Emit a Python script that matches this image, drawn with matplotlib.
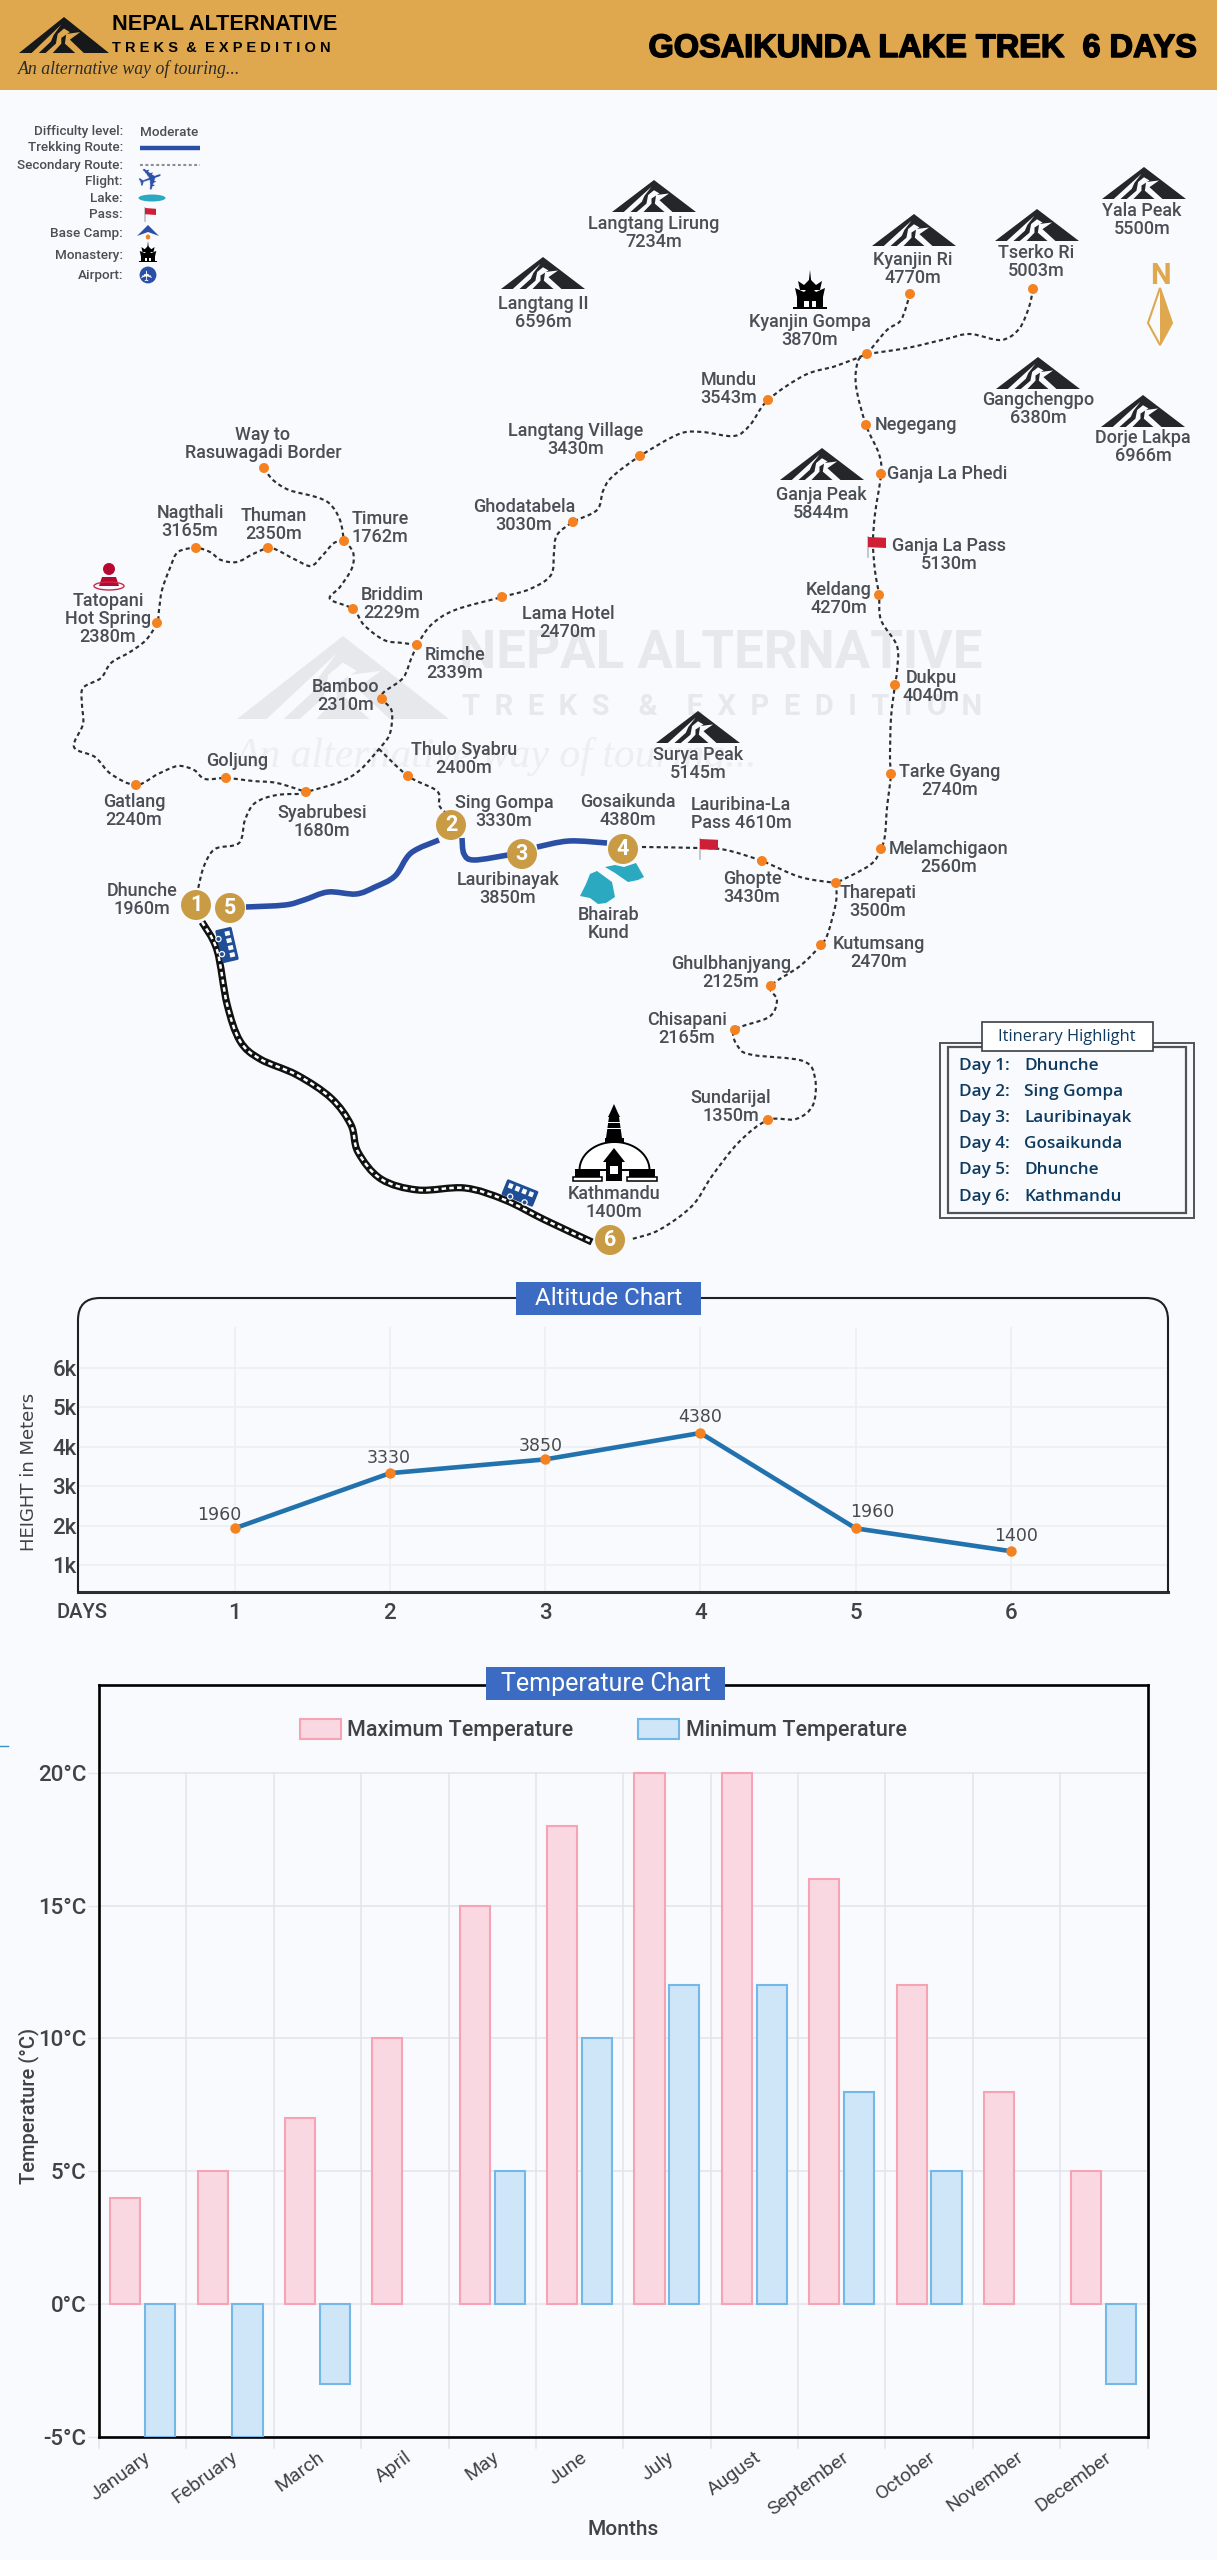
"""Gosaikunda Lake Trek infographic: header, route map, altitude and temperature charts.
The map is drawn on a full-figure canvas in image pixels (y down)."""
import numpy as np
import matplotlib
matplotlib.use("Agg")
import matplotlib.pyplot as plt
import matplotlib.patheffects as pe
from matplotlib.path import Path
from matplotlib.patches import PathPatch, Circle, Ellipse, Polygon, Rectangle
from matplotlib.transforms import ScaledTranslation

W, H = 1217, 2560
BG = "#F8FAFD"
GOLD = "#DFA84E"
BADGE = "#C99B45"
ORANGE = "#F58220"
BLUE = "#2A4FA5"
TITLE_BLUE = "#3B6BC2"
INK = "#4A4E55"
DARK = "#24262A"

plt.rcParams["font.family"] = ["Roboto", "DejaVu Sans"]

# altitude chart
days = [1, 2, 3, 4, 5, 6]
altitude_plotted = [1930, 3330, 3680, 4350, 1930, 1350]
altitude_labels = ["1960", "3330", "3850", "4380", "1960", "1400"]
altitude_ticks = [1000, 2000, 3000, 4000, 5000, 6000]
altitude_ticklabels = ["1k", "2k", "3k", "4k", "5k", "6k"]

# temperature chart (April and November have no minimum bar)
months = ["January", "February", "March", "April", "May", "June", "July", "August",
          "September", "October", "November", "December"]
temp_max = [4, 5, 7, 10, 15, 18, 20, 20, 16, 12, 8, 5]
temp_min = [-5, -5, -3, np.nan, 5, 10, 12, 12, 8, 5, np.nan, -3]
temp_ticks = [-5, 0, 5, 10, 15, 20]

itinerary_days = ["Day 1:", "Day 2:", "Day 3:", "Day 4:", "Day 5:", "Day 6:"]
itinerary_stops = ["Dhunche", "Sing Gompa", "Lauribinayak", "Gosaikunda", "Dhunche", "Kathmandu"]

legend_names = ["Difficulty level:", "Trekking Route:", "Secondary Route:", "Flight:", "Lake:",
                "Pass:", "Base Camp:", "Monastery:", "Airport:"]
legend_rows = [132, 148, 165, 182, 198, 215, 233, 255, 276]

# map labels: text, centre x, centre y (image pixels)
place_labels = [
    ("Langtang Lirung\n7234m", 654, 233), ("Yala Peak\n5500m", 1142, 220),
    ("Kyanjin Ri\n4770m", 913, 269), ("Tserko Ri\n5003m", 1036, 262),
    ("Langtang II\n6596m", 543, 313), ("Kyanjin Gompa\n3870m", 810, 331),
    ("Mundu\n3543m", 729, 389), ("Negegang", 916, 425), ("Ganja La Phedi", 947, 474),
    ("Ganja La Pass\n5130m", 949, 555), ("Ganja Peak\n5844m", 821, 504),
    ("Gangchengpo\n6380m", 1038, 409), ("Dorje Lakpa\n6966m", 1143, 447),
    ("Keldang\n4270m", 839, 599), ("Dukpu\n4040m", 931, 687), ("Surya Peak\n5145m", 698, 764),
    ("Tarke Gyang\n2740m", 950, 781), ("Melamchigaon\n2560m", 949, 858),
    ("Tharepati\n3500m", 878, 902), ("Kutumsang\n2470m", 879, 953),
    ("Ghulbhanjyang\n2125m", 731, 973), ("Chisapani\n2165m", 687, 1029),
    ("Sundarijal\n1350m", 731, 1107), ("Kathmandu\n1400m", 614, 1203),
    ("Ghopte\n3430m", 752, 888), ("Lauribina-La\nPass 4610m", 741, 814),
    ("Gosaikunda\n4380m", 628, 811), ("Sing Gompa\n3330m", 504, 812),
    ("Lauribinayak\n3850m", 508, 889), ("Bhairab\nKund", 609, 924),
    ("Thulo Syabru\n2400m", 464, 759), ("Syabrubesi\n1680m", 322, 822),
    ("Goljung", 237, 761), ("Gatlang\n2240m", 134, 811), ("Dhunche\n1960m", 142, 900),
    ("Tatopani\nHot Spring\n2380m", 108, 619), ("Way to\nRasuwagadi Border", 263, 444),
    ("Nagthali\n3165m", 190, 522), ("Thuman\n2350m", 274, 525), ("Timure\n1762m", 380, 528),
    ("Briddim\n2229m", 392, 604), ("Rimche\n2339m", 455, 664), ("Bamboo\n2310m", 346, 696),
    ("Lama Hotel\n2470m", 568, 623), ("Ghodatabela\n3030m", 524, 516),
    ("Langtang Village\n3430m", 576, 440),
]

stops = [(264, 468), (344, 541), (196, 548), (268, 548), (157, 623), (353, 609), (417, 645),
         (502, 597), (573, 522), (382, 699), (226, 778), (136, 785), (306, 792), (408, 776),
         (640, 456), (768, 400), (867, 354), (910, 294), (1033, 289), (866, 425), (881, 474),
         (879, 595), (895, 685), (891, 774), (881, 849), (836, 883), (762, 861), (821, 945),
         (771, 986), (735, 1030), (768, 1120)]

badges = [(1, 196, 905), (5, 230, 908), (2, 451, 825), (3, 522, 854), (4, 623, 849), (6, 610, 1240)]

peaks = [(654, 180), (543, 257), (914, 214), (1037, 209), (1144, 167), (1038, 357),
         (1143, 395), (822, 448), (698, 711)]

trails = [
    [(264, 468), (273, 480), (289, 490), (316, 497), (330, 504), (340, 520), (344, 541)],
    [(344, 541), (353, 552), (352, 568), (340, 587), (330, 599), (353, 609), (364, 625),
     (384, 640), (403, 643), (417, 645)],
    [(344, 541), (334, 543), (322, 556), (311, 566), (296, 560), (277, 550), (268, 548),
     (253, 554), (237, 562), (221, 560), (210, 552), (196, 548), (178, 552), (170, 568),
     (162, 590), (159, 610), (157, 623), (146, 640), (130, 652), (111, 663), (101, 678),
     (83, 688), (82, 705), (83, 724), (74, 747), (95, 757), (111, 774), (136, 785),
     (158, 774), (178, 766), (194, 770), (205, 779), (226, 778), (253, 781), (277, 783),
     (306, 792)],
    [(417, 645), (411, 659), (403, 678), (384, 692), (382, 699), (391, 709), (392, 721),
     (389, 736), (379, 749), (360, 770), (340, 782), (306, 792)],
    [(379, 749), (408, 776), (437, 791), (439, 805), (445, 812)],
    [(306, 794), (277, 795), (255, 803), (245, 820), (239, 843), (215, 849), (204, 866), (198, 889)],
    [(417, 645), (431, 625), (455, 610), (502, 597), (530, 589), (551, 575), (554, 552),
     (557, 535), (573, 522), (597, 510), (603, 491), (612, 477), (640, 456), (679, 434),
     (702, 432), (734, 436), (750, 425), (768, 400), (805, 375), (836, 366), (867, 354)],
    [(867, 354), (887, 330), (901, 320), (910, 294)],
    [(867, 354), (907, 348), (946, 339), (970, 334), (1001, 340), (1019, 329), (1029, 307), (1033, 289)],
    [(867, 354), (858, 361), (856, 386), (866, 425), (879, 454), (881, 474), (875, 514),
     (873, 543), (875, 571), (879, 595), (881, 620), (897, 646), (897, 671), (895, 685),
     (891, 718), (890, 760), (891, 774), (887, 808), (885, 835), (881, 849), (870, 865), (836, 883)],
    [(642, 847), (699, 848), (726, 850), (762, 861), (800, 877), (836, 883)],
    [(836, 883), (836, 902), (828, 933), (821, 945), (800, 966), (771, 986), (777, 1000),
     (769, 1017), (735, 1030), (739, 1048), (753, 1055), (803, 1061), (815, 1078), (813, 1105),
     (796, 1119), (768, 1120), (739, 1142), (712, 1176), (692, 1206), (659, 1230), (632, 1239)],
]
road = [(202, 922), (217, 950), (227, 1004), (240, 1041), (260, 1059), (297, 1075), (331, 1098),
        (351, 1125), (358, 1152), (381, 1179), (418, 1190), (465, 1188), (505, 1200), (545, 1220),
        (592, 1242)]
trek = [
    [(246, 907), (285, 905), (304, 900), (328, 892), (356, 894), (375, 887), (395, 876), (411, 853), (439, 840)],
    [(462, 838), (464, 854), (474, 860), (508, 855)],
    [(537, 847), (569, 841), (607, 843)],
]


def smooth_path(points):
    """Catmull-Rom curve through the points, as cubic bezier segments."""
    p = np.array(points, float)
    p = np.vstack([p[0], p, p[-1]])
    verts, codes = [tuple(p[1])], [Path.MOVETO]
    for i in range(1, len(p) - 2):
        verts += [tuple(p[i] + (p[i + 1] - p[i - 1]) / 6), tuple(p[i + 1] - (p[i + 2] - p[i]) / 6), tuple(p[i + 1])]
        codes += [Path.CURVE4] * 3
    return Path(verts, codes)


def draw_curve(ax, points, **kw):
    ax.add_patch(PathPatch(smooth_path(points), facecolor="none", capstyle="butt", **kw))


def mountain(ax, cx, top, w=84, h=32, dark=DARK, light=BG, zorder=4):
    def pts(shape):
        return [(cx + u * w / 2, top + v * h) for u, v in shape]
    ax.add_patch(Polygon(pts([(0, 0), (1, 1), (-1, 1)]), fc=dark, ec="none", zorder=zorder))
    for shape in [
        [(-0.06, 0.21), (-0.37, 0.58), (-0.72, 1), (-0.56, 1), (-0.29, 0.68), (-0.23, 0.5)],
        [(0, 0.32), (-0.14, 0.47), (-0.18, 0.74), (-0.41, 1), (-0.25, 1), (-0.06, 0.74), (-0.06, 0.58), (0.13, 0.42)],
        [(0.05, 0.47), (0.36, 0.42), (0.13, 0.63), (0.44, 1), (0.25, 1), (0.02, 0.74)],
    ]:
        ax.add_patch(Polygon(pts(shape), fc=light, ec="none", zorder=zorder + 0.1))


def flag(ax, x, top, w=18, h=11, pole=20):
    ax.plot([x, x], [top, top + pole], color="#B9BEC6", lw=1.2, zorder=5)
    ax.add_patch(Polygon([(x, top), (x + w, top + 0.8), (x + w, top + h), (x, top + h - 0.8)],
                         fc="#CF1F37", ec="none", zorder=6))


def monastery(ax, cx, top, s=1.0):
    def rect(x0, y0, x1, y1, color="black"):
        ax.add_patch(Rectangle((cx + x0 * s, top + y0 * s), (x1 - x0) * s, (y1 - y0) * s, fc=color, ec="none", zorder=5))

    def roof(y, half):
        shape = [(0, y), (6, y + 6), (half, y + 2), (half - 2, y + 11), (2 - half, y + 11), (-half, y + 2), (-6, y + 6)]
        ax.add_patch(Polygon([(cx + u * s, top + v * s) for u, v in shape], fc="black", zorder=5))
    ax.add_patch(Polygon([(cx, top), (cx + 1.5 * s, top + 14 * s), (cx - 1.5 * s, top + 14 * s)], fc="black", zorder=5))
    roof(9, 12)
    roof(16, 15)
    rect(-13, 26, 13, 37)
    rect(-6, 31, 6, 37, BG)
    rect(-1.5, 31, 1.5, 37)
    rect(-17, 37, 17, 38.5)


def bus(ax, cx, cy, angle, length=31, width=14):
    t = np.radians(angle)
    ux, uy = np.cos(t), np.sin(t)
    vx, vy = -uy, ux

    def quad(a0, a1, b0, b1):
        return [(cx + a * ux + b * vx, cy + a * uy + b * vy) for a, b in [(a0, b0), (a1, b0), (a1, b1), (a0, b1)]]
    ax.add_patch(Polygon(quad(-length / 2, length / 2, -width / 2, width / 2), fc="#1F4E96", ec="#1F4E96", lw=2,
                         joinstyle="round", zorder=5))
    for a in np.linspace(-length / 2 + 2, length / 2 - 7, 4):
        ax.add_patch(Polygon(quad(a, a + 4.5, -width / 2 + 1.5, -0.5), fc=BG, ec="none", zorder=5.1))
    for a in [-length / 4, length / 4]:
        ax.add_patch(Circle((cx + a * ux + width / 2 * vx, cy + a * uy + width / 2 * vy), 2.6,
                            fc="#1F4E96", ec=BG, lw=0.9, zorder=5.2))


def stupa(ax):
    """Boudhanath style icon above the Kathmandu label."""
    z = 5
    ax.add_patch(Polygon([(610, 1105 + 8), (614, 1104), (618, 1113), (620, 1117), (608, 1117)], fc="black", zorder=z))
    ax.add_patch(Polygon([(609, 1117), (619, 1117), (622, 1138), (606, 1138)], fc="black", zorder=z))
    for y in (1122, 1128):
        ax.add_patch(Rectangle((606, y), 16, 1.1, fc=BG, zorder=z + 0.1))
    ax.add_patch(Rectangle((605, 1138), 19, 4, fc="black", zorder=z))
    dome_t = np.linspace(np.pi, 0, 40)
    ax.add_patch(Polygon(np.column_stack([614.5 + 35 * np.cos(dome_t), 1170 - 28 * np.sin(dome_t)]),
                         fc="white", ec="black", lw=1.4, zorder=z))
    for x0, x1 in [(573, 602), (627, 657)]:
        ax.add_patch(Rectangle((x0 + 2, 1169), x1 - x0 - 4, 8, fc="black", zorder=z + 0.1))
        ax.add_patch(Rectangle((x0, 1177), x1 - x0, 4, fc="white", ec="black", lw=1.1, zorder=z + 0.1))
    ax.add_patch(Polygon([(614, 1148), (625, 1162), (622, 1162), (622, 1181), (606, 1181), (606, 1162), (603, 1162)],
                         fc="black", zorder=z + 0.2))
    ax.add_patch(Rectangle((610, 1166), 8, 8, fc="white", zorder=z + 0.3))


# ---------------------------------------------------------------- figure and charts
fig = plt.figure(figsize=(W / 100, H / 100), dpi=100, facecolor=BG)


def px_axes(x0, y0, x1, y1):
    return fig.add_axes([x0 / W, 1 - y1 / H, (x1 - x0) / W, (y1 - y0) / H])


# altitude chart
ax = px_axes(78, 1327, 1168, 1592)
ax.set_facecolor("none")
ax.plot(days, altitude_plotted, color="#2272AE", lw=3.3, zorder=3, solid_capstyle="round")
ax.plot(days, altitude_plotted, "o", color=ORANGE, ms=7.5, mec="none", zorder=4)
label_offsets = [(-11, 9.5), (-1, 11), (-3, 10), (0, 11.5), (12, 11.5), (4, 11)]
for d, a, lab, off in zip(days, altitude_plotted, altitude_labels, label_offsets):
    ax.annotate(lab, (d, a), xytext=off, textcoords="offset points", ha="center", va="center",
                fontsize=12.5, color="#46494E", family="DejaVu Sans")
ax.set_xlim(-0.008, 7.011)
ax.set_ylim(315, 7040)
ax.set_xticks(days)
ax.set_yticks(altitude_ticks)
ax.set_yticklabels(altitude_ticklabels)
ax.tick_params(length=0, colors="#3F4247", labelsize=16)
ax.tick_params(axis="x", pad=8)
ax.tick_params(axis="y", pad=1)
for lab in ax.get_xticklabels() + ax.get_yticklabels():
    lab.set_fontweight("medium")
ax.grid(color="#EDEFF3", lw=1.2)
ax.set_axisbelow(True)
for name, spine in ax.spines.items():
    spine.set_visible(name == "bottom")
ax.spines["bottom"].set_color("#2B2D31")
ax.spines["bottom"].set_linewidth(2.2)

# temperature chart
ax = px_axes(99, 1685, 1147.5, 2437)
ax.set_facecolor("none")
x = np.arange(len(months))
ax.bar(x - 0.2, temp_max, 0.345, color="#FAD8E2", edgecolor="#F6A3B6", linewidth=1.5, zorder=3,
       label="Maximum Temperature")
ax.bar(x + 0.2, temp_min, 0.345, color="#CFE5F8", edgecolor="#74B8E8", linewidth=1.5, zorder=3,
       label="Minimum Temperature")
ax.set_xlim(-0.5, 11.5)
ax.set_ylim(-5, 23.3)
ax.set_yticks(temp_ticks)
ax.set_yticklabels([f"{t}°C" for t in temp_ticks], fontweight="medium")
ax.set_xticks(x)
ax.set_xticklabels(months, rotation=36, ha="right", rotation_mode="anchor", fontsize=14, color="#3F4247")
shift = ScaledTranslation(16 / 100, -14 / 100, fig.dpi_scale_trans)
for lab in ax.get_xticklabels():
    lab.set_transform(lab.get_transform() + shift)
ax.tick_params(axis="x", length=0, pad=8)
ax.tick_params(axis="y", length=8, width=1, color="#E3E5EA", labelsize=16, labelcolor="#3F4247", pad=1)
ax.set_xticks(x[:-1] + 0.5, minor=True)
ax.set_axisbelow(True)
ax.grid(axis="y", color="#E3E5EA", lw=1.1)
ax.tick_params(axis="x", which="minor", length=0)
for b in list(x[:-1] + 0.5) + [-0.5, 11.5]:
    ax.plot([b, b], [-5.4, 20], color="#E3E5EA", lw=1.1, zorder=1, clip_on=False)
for spine in ax.spines.values():
    spine.set_color("black")
    spine.set_linewidth(1.9)
ax.set_xlabel("Months", fontsize=15, color="#3F4247", fontweight="medium", labelpad=0)
ax.xaxis.set_label_coords(0.5, -83 / 752)
ax.set_ylabel("Temperature (°C)", fontsize=14.5, color="#3F4247", fontweight="medium", labelpad=0)
ax.yaxis.set_label_coords(-60 / 1048, 0.44)
ax.legend(loc="upper center", bbox_to_anchor=(0.481, 0.98), ncol=2, frameon=False,
          prop={"size": 15.5, "weight": "medium"}, handlelength=1.9, handleheight=1.0, columnspacing=3.0,
          handletextpad=0.3, labelcolor="#3F4247")

# ---------------------------------------------------------------- canvas in image pixels
c = fig.add_axes([0, 0, 1, 1], zorder=5)
c.set_xlim(0, W)
c.set_ylim(H, 0)
c.axis("off")

# header
c.add_patch(Rectangle((0, 0), W, 90, fc=GOLD, ec="none"))
mountain(c, 64, 17, w=90, h=36, dark="#17181A", light=GOLD)
c.text(112, 25, "NEPAL ALTERNATIVE", fontsize=15.6, fontweight="bold", color="black", va="center",
       family=["Liberation Sans"])
c.text(112, 48, "T R E K S  &  E X P E D I T I O N", fontsize=10.5, fontweight="bold", color="black", va="center",
       family=["Liberation Sans"])
c.text(18, 69, "An alternative way of touring...", fontsize=12.8, style="italic", color="#2C2A26", va="center",
       family=["Liberation Serif"])
c.text(1196, 49, "GOSAIKUNDA LAKE TREK  6 DAYS", fontsize=23.4, fontweight="bold", color="black", ha="right",
       va="center", family=["Liberation Sans"], path_effects=[pe.withStroke(linewidth=1.1, foreground="black")])

# watermark
mountain(c, 343, 636, w=212, h=83, dark="#E6E8EC", light=BG, zorder=0.5)
c.text(721, 654, "NEPAL ALTERNATIVE", fontsize=38, fontweight="bold", color="#E6E8EC", ha="center", va="center", zorder=0.5)
c.text(722, 707, "T  R  E  K  S    &    E  X  P  E  D  I  T  I  O  N", fontsize=21, fontweight="bold", color="#E6E8EC",
       ha="center", va="center", zorder=0.5)
c.text(495, 757, "An alternative way of touring...", fontsize=30, style="italic", color="#ECEEF1", ha="center",
       va="center", family=["Liberation Serif"], zorder=0.5)

# legend block
for name, y in zip(legend_names, legend_rows):
    c.text(123, y, name, fontsize=9.7, color=INK, ha="right", va="center", fontweight="medium")
c.text(140, legend_rows[0], "Moderate", fontsize=9.7, color=INK, va="center", fontweight="medium")
c.plot([140, 200], [148, 148], color=BLUE, lw=3.2, solid_capstyle="butt")
c.plot([140, 200], [165, 165], color="#8A8E96", lw=1.5, ls=(0, (1.4, 1.2)))
c.text(150, 180, "✈", fontsize=22, color=BLUE, ha="center", va="center", rotation=20, family=["DejaVu Sans"])
c.add_patch(Ellipse((152, 198), 27, 7, fc="#2AA9C0", ec="none"))
flag(c, 145, 208, w=11, h=7, pole=13)
c.add_patch(Polygon([(148, 225), (159, 236), (148, 232), (137, 236)], fc=BLUE, ec="none"))
c.add_patch(Ellipse((148, 237), 4.5, 5, fc=ORANGE, ec="none"))
monastery(c, 148, 241, s=0.55)
c.add_patch(Circle((148, 275), 8.4, fc=BLUE, ec="none"))
c.text(148, 275, "✈", fontsize=10.5, color="white", ha="center", va="center", rotation=90, family=["DejaVu Sans"])

# routes
for t in trails:
    draw_curve(c, t, edgecolor="#2B2E33", lw=1.55, linestyle=(0, (1.9, 1.5)), zorder=2)
draw_curve(c, road, edgecolor="#111111", lw=5.2, zorder=2)
draw_curve(c, road, edgecolor="white", lw=1.8, linestyle=(0, (1.8, 1.3)), zorder=2.1)
for t in trek:
    draw_curve(c, t, edgecolor=BLUE, lw=4, zorder=2)

for px, py in stops:
    c.add_patch(Circle((px, py), 5, fc=ORANGE, ec="none", zorder=3))
for n, px, py in badges:
    c.add_patch(Circle((px, py), 15, fc=BADGE, ec="none", zorder=4))
    c.text(px, py, str(n), fontsize=15.5, fontweight="bold", color="white", ha="center", va="center", zorder=5)

for px, py in peaks:
    mountain(c, px, py)
for text, px, py in place_labels:
    c.text(px, py, text, fontsize=13, color=INK, ha="center", va="center", fontweight="medium",
           linespacing=1.0, zorder=6)

# lakes, flags, icons
c.add_patch(Polygon([(590, 874), (597, 871), (612, 882), (615, 897), (606, 903), (598, 904), (590, 898), (580, 896),
                     (586, 884)], fc="#2AA9C0", ec="none", zorder=3))
c.add_patch(Polygon([(605, 867), (615, 865), (624, 867), (636, 863), (644, 877), (638, 880), (628, 882), (615, 873)],
                    fc="#2AA9C0", ec="none", zorder=3))
flag(c, 868, 537)
flag(c, 700, 839)
monastery(c, 810, 270)
bus(c, 227, 945, 77)
bus(c, 520, 1193, 22)

c.add_patch(Circle((109, 569), 6, fc="#B7092F", ec="none"))
c.add_patch(Polygon([(99, 586), (102, 577), (116, 577), (119, 586)], fc="#B7092F", ec="none"))
c.add_patch(Ellipse((109, 586), 30, 8, fc="none", ec="#C92B4D", lw=1))

stupa(c)

# north arrow
c.text(1160, 276, "N", fontsize=21, fontweight="bold", color=GOLD, ha="center", va="center")
c.add_patch(Polygon([(1160, 288), (1148, 323), (1160, 345), (1172, 323)], fc=BG, ec=GOLD, lw=1.5))
c.add_patch(Polygon([(1160, 288), (1160, 345), (1172, 323)], fc=GOLD, ec="none"))

# itinerary box
c.add_patch(Rectangle((940, 1043), 254, 175, fc="none", ec="#50545A", lw=1.4, zorder=6))
c.add_patch(Rectangle((948, 1047), 238, 166, fc=BG, ec="#50545A", lw=1.6, zorder=6))
c.add_patch(Rectangle((982, 1022), 171, 29, fc="white", ec="#3B3E44", lw=1.2, zorder=7))
c.text(1067, 1037, "Itinerary Highlight", fontsize=11.8, color="#0F3A5F", ha="center", va="center",
       fontweight="medium", family=["Open Sans"], zorder=8)
for d, stop, y in zip(itinerary_days, itinerary_stops, [1066, 1092, 1118, 1144, 1170, 1197]):
    c.text(959, y, d, fontsize=12.3, color="#0F3A5F", va="center", fontweight="semibold", family=["Open Sans"], zorder=8)
    c.text(1024, y, stop, fontsize=12.3, color="#0F3A5F", va="center", fontweight="semibold", family=["Open Sans"], zorder=8)

# chart frames and titles
r = 22
verts = [(78, 1592), (78, 1298 + r), (78, 1298), (78 + r, 1298), (1168 - r, 1298), (1168, 1298), (1168, 1298 + r), (1168, 1592)]
codes = [Path.MOVETO, Path.LINETO, Path.CURVE3, Path.CURVE3, Path.LINETO, Path.CURVE3, Path.CURVE3, Path.LINETO]
c.add_patch(PathPatch(Path(verts, codes), fc="none", ec="#1E2024", lw=1.5))
c.text(82, 1613, "DAYS", fontsize=14.5, color="#3F4247", ha="center", va="center", fontweight="medium")
c.text(29, 1472, "HEIGHT in Meters", fontsize=13, color="#3F4247", rotation=90, ha="center", va="center",
       family=["DejaVu Sans"])
for x0, x1, y0, y1, text, size in [(516, 701, 1282, 1315, "Altitude Chart", 17.5),
                                   (486, 725, 1667, 1700, "Temperature Chart", 18)]:
    c.add_patch(Rectangle((x0, y0), x1 - x0, y1 - y0, fc=TITLE_BLUE, ec="none", zorder=7))
    c.text((x0 + x1) / 2, (y0 + y1) / 2, text, fontsize=size, color="white", ha="center", va="center", zorder=8)
c.plot([0, 8], [1746, 1746], color="#3C8FC5", lw=1)

fig.savefig("out.png", dpi=100, facecolor=BG)
